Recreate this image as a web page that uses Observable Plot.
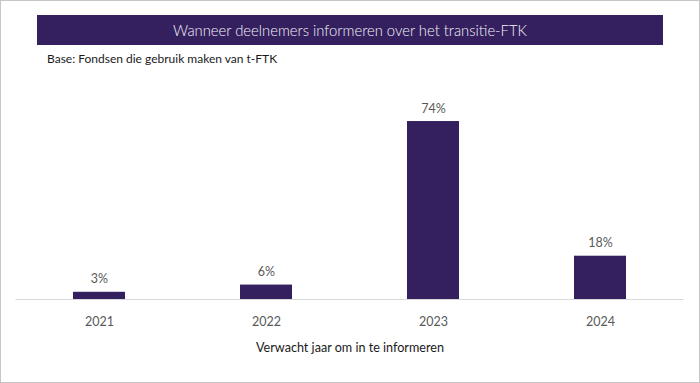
<!DOCTYPE html>
<html>
<head>
<meta charset="utf-8">
<script src="https://cdn.jsdelivr.net/npm/d3@7"></script>
<script src="https://cdn.jsdelivr.net/npm/@observablehq/plot@0.6"></script>
<style>
  body { margin: 0; background: #fff; font-family: Lato, "Open Sans", sans-serif; }
  #wrap { position: relative; width: 700px; height: 383px; overflow: hidden; }
  #frame { position: absolute; left: 0; top: 0; width: 700px; height: 383px; box-sizing: border-box; border: 1px solid #c6c6c6; pointer-events: none; }
  #title { position: absolute; left: 37px; top: 15px; width: 626px; height: 30px; background: #35205f; color: #f4f2f8; font-size: 14.8px; font-weight: 300; line-height: 30px; text-align: center; }
  #subtitle { position: absolute; left: 47px; top: 51px; font-size: 12px; color: #1a1a1a; line-height: 16px; }
  #chart { position: absolute; left: 0; top: 70px; }
  #xlabel { position: absolute; left: 0; width: 700px; top: 339px; text-align: center; font-size: 12.6px; color: #1a1a1a; line-height: 18px; }
</style>
</head>
<body>
<div id="wrap">
  <div id="title">Wanneer deelnemers informeren over het transitie-FTK</div>
  <div id="subtitle">Base: Fondsen die gebruik maken van t-FTK</div>
  <div id="chart"></div>
  <div id="xlabel">Verwacht jaar om in te informeren</div>
  <div id="frame"></div>
</div>
<script>
const years = ["2021", "2022", "2023", "2024"];
const shares = [3, 6, 74, 18];
const labels = ["3%", "6%", "74%", "18%"];

const data = years.map((y, i) => ({year: y, value: shares[i], label: labels[i]}));

const chart = Plot.plot({
  width: 700,
  height: 313,
  marginTop: 36.6,
  marginBottom: 84,
  marginLeft: 15.5,
  marginRight: 16.5,
  style: {fontFamily: "Lato, 'Open Sans', sans-serif", background: "transparent"},
  x: {domain: years, paddingInner: 0.69, paddingOuter: 0.345, label: null},
  y: {domain: [0, 80], axis: null},
  marks: [
    Plot.barY(data, {x: "year", y: "value", fill: "#35205f"}),
    Plot.ruleY([0], {stroke: "#d9d9d9", strokeWidth: 1}),
    Plot.text(data, {x: "year", y: "value", text: "label", dy: -13, fill: "#595959", fontSize: 12.5}),
    Plot.axisX({tickSize: 0, tickPadding: 18, fontSize: 12.5, color: "#595959", label: null})
  ]
});
document.getElementById("chart").appendChild(chart);
</script>
</body>
</html>
